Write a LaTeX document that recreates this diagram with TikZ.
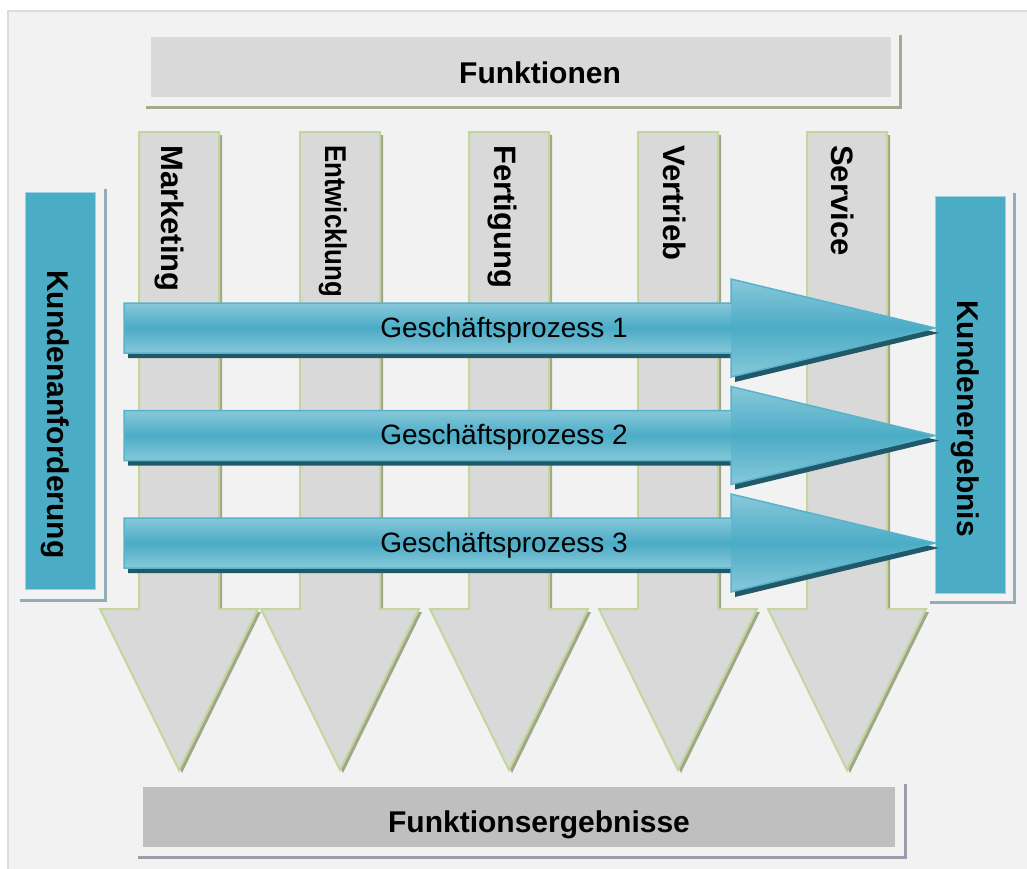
\documentclass[tikz,border=0pt]{standalone}
\usepackage{fontspec}
\setmainfont{Liberation Sans}

\definecolor{pagebg}{HTML}{F2F2F2}
\definecolor{framegray}{HTML}{DCDCDC}
\definecolor{boxlight}{HTML}{D9D9D9}
\definecolor{boxdark}{HTML}{BFBFBF}
\definecolor{topshade}{HTML}{A3AA8E}
\definecolor{botshade}{HTML}{A09AAB}
\definecolor{colfill}{HTML}{D9D9D9}
\definecolor{coledge}{HTML}{C3D69B}
\definecolor{colshade}{HTML}{A0A68C}
\definecolor{bluemid}{HTML}{4BACC6}
\definecolor{bluelight}{HTML}{88C8DA}
\definecolor{blueedge}{HTML}{56B3CB}
\definecolor{blueshade}{HTML}{215968}
\definecolor{sideshade}{HTML}{93ACB6}

% outline of one function column with its downward head
\newcommand\colpath[1]{(#1-40,132) -- (#1+40,132) -- (#1+40,609) -- (#1+79,609)
  -- (#1,770) -- (#1-79,609) -- (#1-40,609) -- cycle}
% outline of one process arrow, centred on height #1
\newcommand\procpath[1]{(124,#1-25) -- (731,#1-25) -- (731,#1-49) -- (935,#1)
  -- (731,#1+49) -- (731,#1+25) -- (124,#1+25) -- cycle}

\begin{document}
\begin{tikzpicture}[x=1pt,y=-1pt,
  boldlbl/.style={font=\fontsize{30}{36}\selectfont\bfseries, inner sep=0pt},
  collbl/.style={font=\fontsize{31}{36}\selectfont\bfseries, inner sep=0pt,
    rotate=-90, anchor=base west},
  proclbl/.style={font=\fontsize{28}{34}\selectfont, inner sep=0pt, anchor=base},
  sidebox/.style={fill=bluemid, draw=bluemid!55!white, line width=1},
  shadeline/.style={line width=3}]
\useasboundingbox (0,0) rectangle (1027,868);
\fill[white] (0,0) rectangle (1027,868);
\filldraw[fill=pagebg, draw=framegray, line width=2] (8,11) rectangle (1040,880);

% header bar
\draw[topshade, shadeline] (146,107) -- (900,107) -- (900,35);
\fill[boxlight] (151,37) rectangle (891,97);
\node[boldlbl, anchor=base] (funktionen) at (540,83) {Funktionen};

% function columns
\foreach \cx in {179,340,509,678,847}{
  \fill[colshade, shift={(3,3)}] \colpath{\cx};
  \filldraw[fill=colfill, draw=coledge, line width=2, line join=miter] \colpath{\cx};
}
\node[collbl] (marketing) at (161,145) {Marketing};
\node[collbl] (entwicklung) at (325,145)
  {\fontsize{30}{36}\selectfont\scalebox{0.86}[1]{Entwicklung}};
\node[collbl] (fertigung) at (494,145) {Fertigung};
\node[collbl] (vertrieb) at (663,145) {Vertrieb};
\node[collbl] (service) at (831,145) {Service};

% customer boxes
\draw[sideshade, shadeline] (20,600) -- (105,600) -- (105,189);
\filldraw[sidebox] (25,192) rectangle (95,589);
\node[boldlbl, rotate=-90, anchor=base west] (anforderung) at (47,270) {Kundenanforderung};

\draw[sideshade, shadeline] (930,602) -- (1014,602) -- (1014,193);
\filldraw[sidebox] (935,196) rectangle (1005,593);
\node[boldlbl, rotate=-90, anchor=base west] (ergebnis) at (957,300) {Kundenergebnis};

% business process arrows
\foreach \cy/\nm/\num in {328/gp1/1,435.5/gp2/2,543/gp3/3}{
  \fill[blueshade, shift={(4,5)}] \procpath{\cy};
  \shade[top color=bluelight, bottom color=bluelight, middle color=bluemid]
    (124,\cy-25) rectangle (731,\cy+25);
  \shade[top color=bluelight, bottom color=bluelight, middle color=bluemid]
    (731,\cy-49) -- (935,\cy) -- (731,\cy+49) -- cycle;
  \draw[blueedge, line width=1.5, line join=miter] \procpath{\cy};
  \node[proclbl] (\nm) at (504,\cy+9) {Geschäftsprozess \num};
}

% result bar
\draw[botshade, shadeline] (138,857) -- (905,857) -- (905,784);
\fill[boxdark] (143,787) rectangle (895,847);
\node[boldlbl, anchor=base] (ergebnisse) at (539,832) {Funktionsergebnisse};
\end{tikzpicture}
\end{document}
